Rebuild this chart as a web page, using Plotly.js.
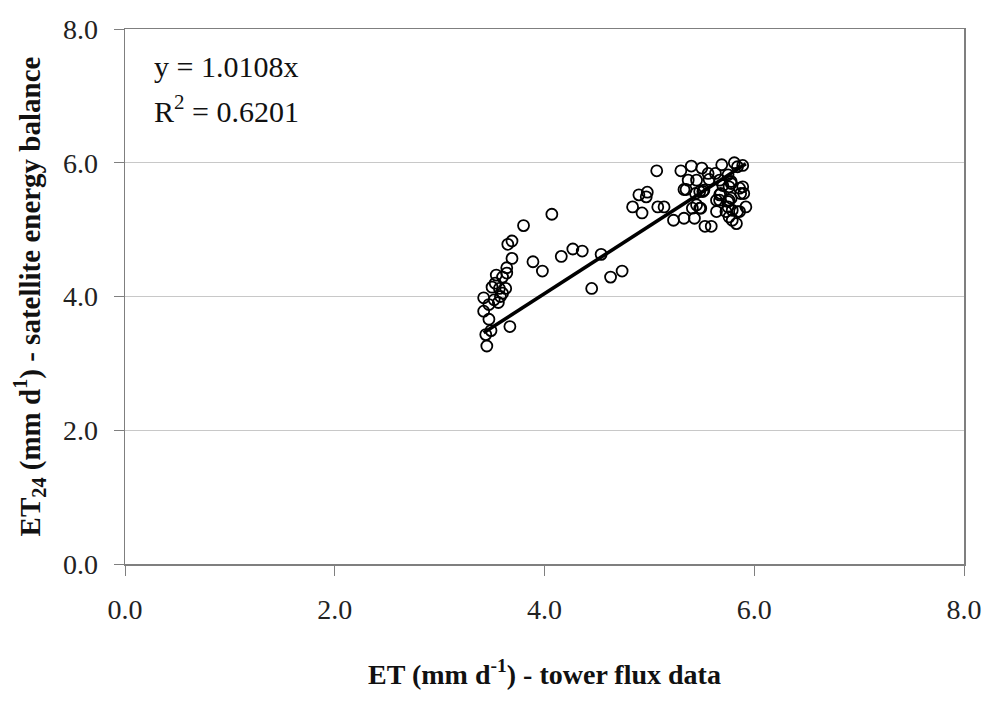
<!DOCTYPE html>
<html>
<head>
<meta charset="utf-8">
<script src="https://cdn.plot.ly/plotly-3.0.1.min.js"></script>
<style>html,body{margin:0;padding:0;background:#fff;}#chart{width:1000px;height:714px;}</style>
</head>
<body>
<div id="chart"></div>
<script>
// Tower flux ET (x) vs satellite energy balance ET24 (y), mm/day
const towerET = [
  4.90, 4.84, 4.93, 4.98, 4.07, 3.80, 3.65, 3.69, 3.69, 3.89,
  3.98, 4.16, 4.27, 4.36, 4.54, 4.74, 4.63, 4.45, 3.64, 3.64,
  3.54, 3.60, 3.50, 3.57, 3.63, 3.60, 3.42, 3.52, 3.56, 3.47,
  3.42, 3.47, 3.67, 3.49, 3.44, 3.45, 3.58, 3.53,
  5.07, 5.30, 5.40, 5.50, 5.37, 5.45, 5.56, 5.57, 5.69, 5.81,
  5.84, 5.89, 5.75, 5.67, 5.78, 5.35, 5.48, 5.52, 5.68, 5.76,
  5.86, 5.90, 4.97, 5.08, 5.14, 5.41, 5.48, 5.45, 5.64, 5.67,
  5.76, 5.75, 5.79, 5.84, 5.92, 5.76, 5.79, 5.83, 5.23, 5.33,
  5.43, 5.53, 5.59, 5.63, 5.70, 5.78, 5.89, 5.87, 5.51, 5.44,
  5.67, 5.78, 5.75, 5.64, 5.73, 5.86, 5.49, 5.33
];
const satelliteET24 = [
  5.52, 5.34, 5.25, 5.56, 5.23, 5.06, 4.78, 4.83, 4.57, 4.52,
  4.38, 4.60, 4.71, 4.68, 4.63, 4.38, 4.29, 4.12, 4.43, 4.35,
  4.32, 4.29, 4.14, 4.12, 4.12, 4.05, 3.98, 3.95, 3.91, 3.88,
  3.78, 3.66, 3.55, 3.49, 3.43, 3.26, 4.00, 4.20,
  5.88, 5.88, 5.95, 5.92, 5.74, 5.74, 5.84, 5.75, 5.97, 6.00,
  5.94, 5.96, 5.82, 5.74, 5.72, 5.60, 5.57, 5.59, 5.54, 5.64,
  5.62, 5.54, 5.49, 5.34, 5.34, 5.32, 5.32, 5.37, 5.27, 5.44,
  5.44, 5.34, 5.29, 5.27, 5.34, 5.19, 5.14, 5.09, 5.14, 5.17,
  5.17, 5.05, 5.05, 5.84, 5.66, 5.69, 5.64, 5.54, 5.57, 5.54,
  5.52, 5.47, 5.42, 5.44, 5.27, 5.27, 5.32, 5.60
];
const slope = 1.0108;
const r2 = 0.6201;
const tickVals = [0, 2, 4, 6, 8];
const tickText = ["0.0", "2.0", "4.0", "6.0", "8.0"];

const xmin = Math.min(...towerET), xmax = Math.max(...towerET);
const fitX = [xmin, xmax];
const fitY = fitX.map(v => slope * v);

const serif = "Liberation Serif, Times New Roman, serif";

const data = [
  {
    x: towerET, y: satelliteET24, type: 'scatter', mode: 'markers',
    marker: {symbol: 'circle-open', size: 11, color: '#000', line: {width: 1.8, color: '#000'}},
    hoverinfo: 'x+y', showlegend: false
  },
  {
    x: fitX, y: fitY, type: 'scatter', mode: 'lines',
    line: {color: '#000', width: 3.6}, showlegend: false
  }
];

const layout = {
  width: 1000, height: 714,
  margin: {l: 125, r: 36, t: 29, b: 150},
  paper_bgcolor: '#fff', plot_bgcolor: '#fff',
  font: {family: serif, size: 28, color: '#222'},
  showlegend: false,
  xaxis: {
    range: [0, 8], tickvals: tickVals, ticktext: tickText,
    showgrid: false, zeroline: false,
    showline: true, mirror: true, linecolor: '#7f7f7f', linewidth: 1.5,
    ticks: 'outside', ticklen: 10, tickcolor: '#7f7f7f', tickwidth: 1,
    ticklabelstandoff: 10,
    tickfont: {family: serif, size: 28, color: '#222'},
    title: {text: 'ET (mm d<sup>-1</sup>) - tower flux data', standoff: 40,
            font: {family: serif, size: 28, color: '#111', weight: 'bold'}}
  },
  yaxis: {
    range: [0, 8], tickvals: tickVals, ticktext: tickText,
    showgrid: true, gridcolor: '#c8c8c8', gridwidth: 1, zeroline: false,
    showline: true, mirror: true, linecolor: '#7f7f7f', linewidth: 1.5,
    ticks: 'outside', ticklen: 10, tickcolor: '#7f7f7f', tickwidth: 1,
    ticklabelstandoff: 10,
    tickfont: {family: serif, size: 28, color: '#222'},
    title: {text: 'ET<sub>24</sub> (mm d<sup>1</sup>) - satellite energy balance', standoff: 14,
            font: {family: serif, size: 29, color: '#111', weight: 'bold'}}
  },
  annotations: [
    {xref: 'paper', yref: 'paper', x: 0.032, y: 0.93, xanchor: 'left', yanchor: 'middle',
     text: 'y = ' + slope.toFixed(4) + 'x', showarrow: false,
     font: {family: serif, size: 30, color: '#111'}},
    {xref: 'paper', yref: 'paper', x: 0.032, y: 0.85, xanchor: 'left', yanchor: 'middle',
     text: 'R<sup>2</sup> = ' + r2.toFixed(4), showarrow: false,
     font: {family: serif, size: 30, color: '#111'}}
  ]
};

Plotly.newPlot('chart', data, layout, {displayModeBar: false, staticPlot: true});
</script>
</body>
</html>
